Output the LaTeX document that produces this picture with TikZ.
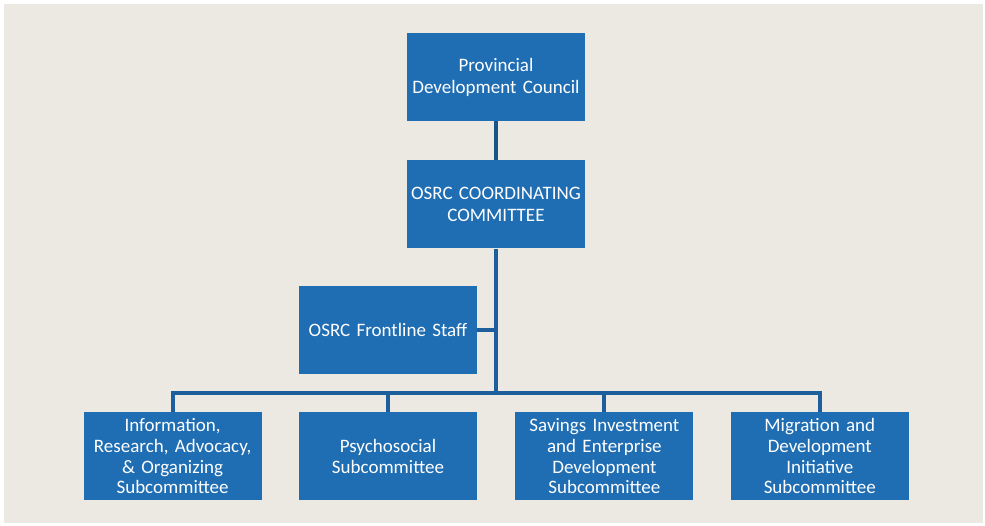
\documentclass[tikz,border=0pt]{standalone}
\usepackage{xcolor}
\usepackage{fontspec}
\setmainfont{Carlito}
\usepackage{tikz}
\usetikzlibrary{positioning}

\definecolor{boxblue}{HTML}{1F6DB3}
\definecolor{wireblue}{HTML}{1D5E9C}
\definecolor{darkwire}{HTML}{1A5388}
\definecolor{paper}{HTML}{ECE9E2}

\begin{document}
\begin{tikzpicture}[x=1pt, y=1pt, node distance=39pt and 37pt]
    % Define the style for the nodes
    \tikzstyle{block} = [rectangle, fill=boxblue, text=white, text width=176pt, inner xsep=1pt, align=center, minimum height=88pt, font=\fontsize{19}{22}\selectfont]
    \tikzstyle{subblock} = [block, font=\fontsize{19}{20.7}\selectfont]
    \tikzstyle{line} = [draw=wireblue, line width=4pt]

    % Background
    \useasboundingbox (0,0) rectangle (985,525);
    \fill [paper] (4,2) rectangle (983,521);

    % Place the nodes
    \node [block] (council) at (496,448) {Provincial\\Development Council};
    \node [block, below=39pt of council] (committee) {OSRC COORDINATING\\COMMITTEE};
    \node [block] (staff) at (388,195) {OSRC Frontline Staff};
    \node [subblock, below=38pt of staff] (psycho) {Psychosocial\\Subcommittee};
    \node [subblock, left=37pt of psycho] (info) {Information,\\Research, Advocacy,\\\& Organizing\\Subcommittee};
    \node [subblock, right=38pt of psycho] (savings) {Savings Investment\\and Enterprise\\Development\\Subcommittee};
    \node [subblock, right=37pt of savings] (migration) {Migration and\\Development\\Initiative\\Subcommittee};
    \coordinate (hub) at ([yshift=19pt]psycho.north -| committee.south);

    % Connect the nodes with paths
    \path [line, draw=darkwire, line width=4.5pt] (council) -- (committee);
    \path [line] (committee) -- (hub);
    \path [line] (staff.east) -- (staff.east -| hub);
    \path [line] (info.north) |- (hub) -| (migration.north);
    \path [line] (psycho.north) -- (psycho.north |- hub);
    \path [line] (savings.north) -- (savings.north |- hub);
\end{tikzpicture}
\end{document}
